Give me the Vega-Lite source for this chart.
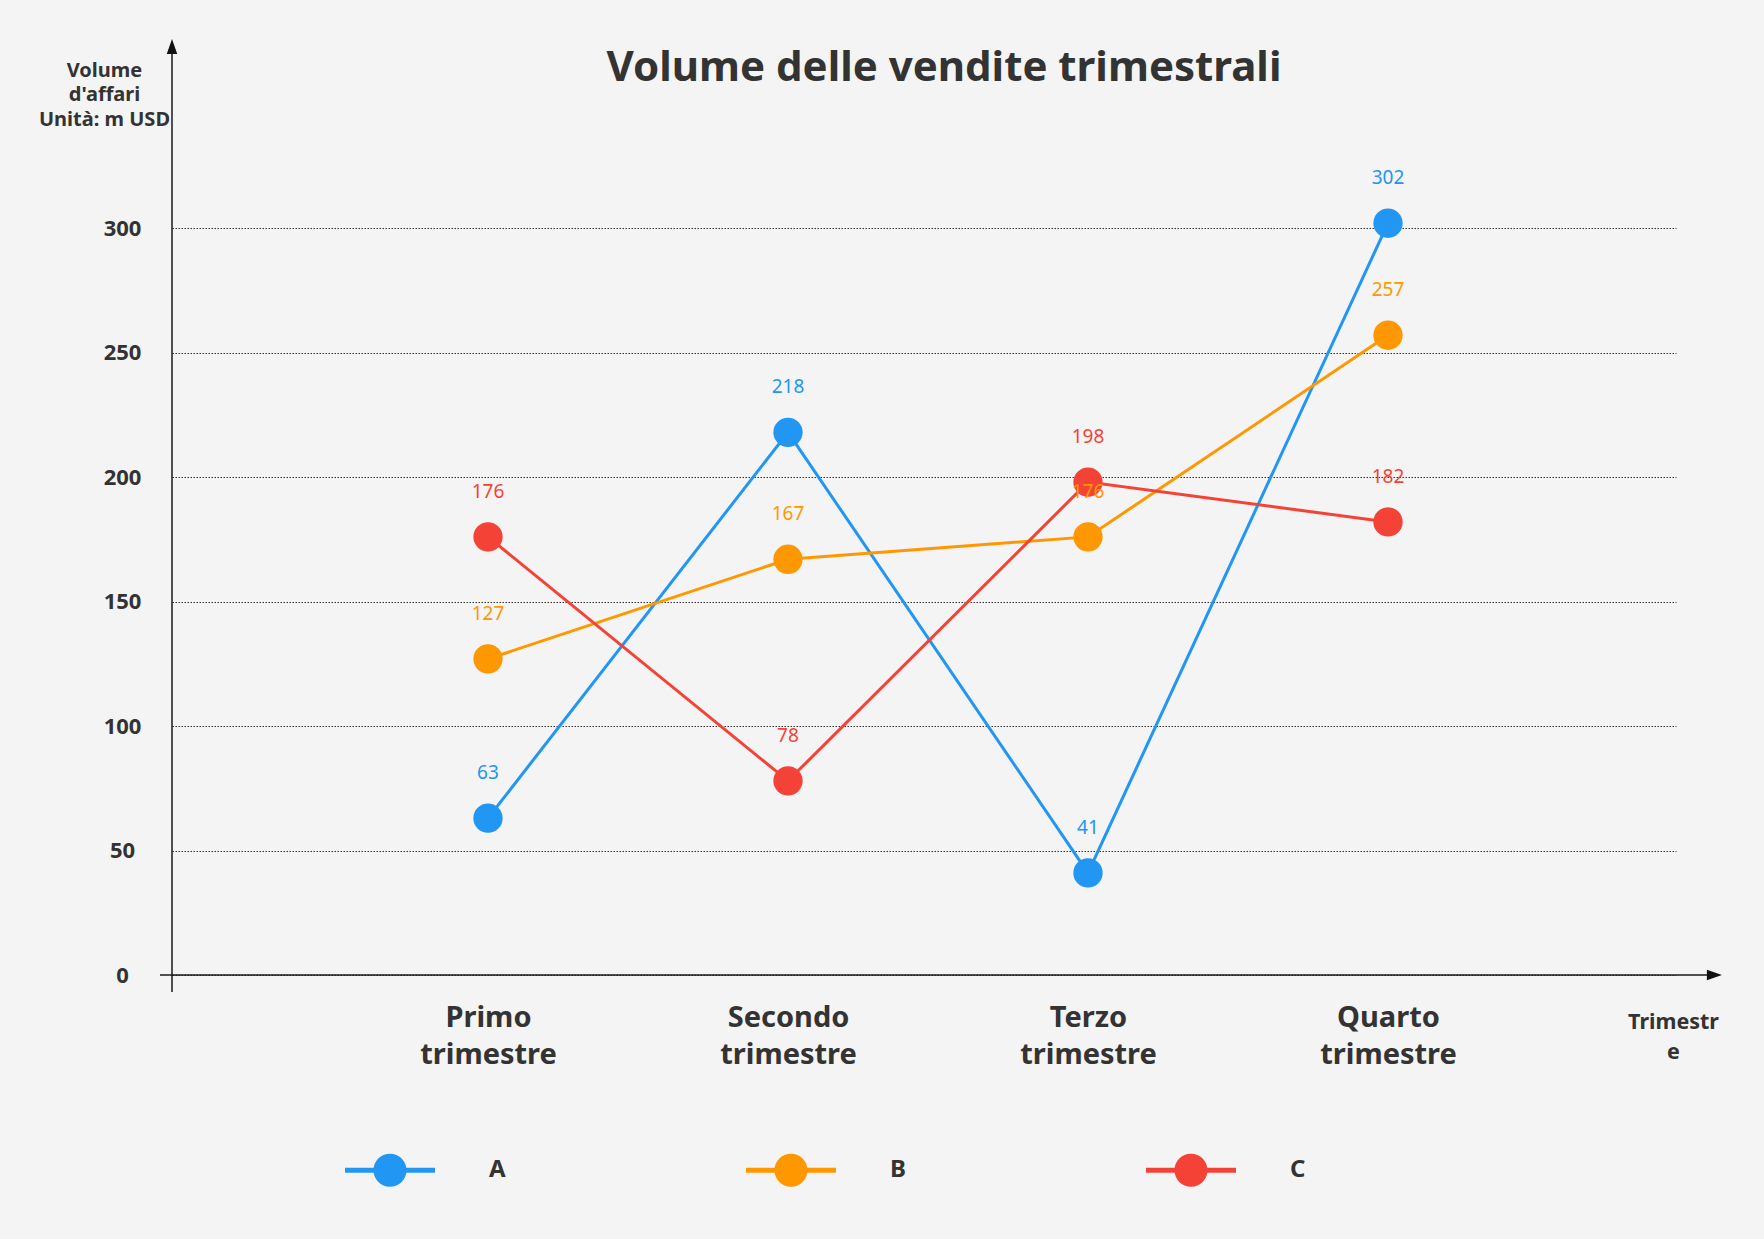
{
  "$schema": "https://vega.github.io/schema/vega-lite/v6.json",
  "width": 1504,
  "height": 936,
  "autosize": {"type": "none"},
  "padding": {"left": 172, "top": 39, "right": 88, "bottom": 264},
  "background": "#f4f4f4",
  "config": {"font": "Noto Sans", "view": {"stroke": null}},
  "title": {
    "text": "Volume delle vendite trimestrali",
    "fontSize": 42,
    "fontWeight": "bold",
    "color": "#333333",
    "anchor": "middle",
    "frame": "group",
    "offset": 0,
    "dx": 20,
    "dy": 51
  },
  "datasets": {
    "vendite": [
      {"trimestre": "Primo trimestre", "n": 1, "serie": "A", "valore": 63},
      {"trimestre": "Secondo trimestre", "n": 2, "serie": "A", "valore": 218},
      {"trimestre": "Terzo trimestre", "n": 3, "serie": "A", "valore": 41},
      {"trimestre": "Quarto trimestre", "n": 4, "serie": "A", "valore": 302},
      {"trimestre": "Primo trimestre", "n": 1, "serie": "B", "valore": 127},
      {"trimestre": "Secondo trimestre", "n": 2, "serie": "B", "valore": 167},
      {"trimestre": "Terzo trimestre", "n": 3, "serie": "B", "valore": 176},
      {"trimestre": "Quarto trimestre", "n": 4, "serie": "B", "valore": 257},
      {"trimestre": "Primo trimestre", "n": 1, "serie": "C", "valore": 176},
      {"trimestre": "Secondo trimestre", "n": 2, "serie": "C", "valore": 78},
      {"trimestre": "Terzo trimestre", "n": 3, "serie": "C", "valore": 198},
      {"trimestre": "Quarto trimestre", "n": 4, "serie": "C", "valore": 182}
    ]
  },
  "data": {"name": "vendite"},
  "layer": [
    {
      "mark": {"type": "line", "strokeWidth": 3},
      "encoding": {
        "x": {
          "field": "n",
          "type": "quantitative",
          "scale": {"domain": [-0.0533, 4.96], "nice": false, "zero": false},
          "axis": {
            "values": [1, 2, 3, 4],
            "labelExpr": "datum.value == 1 ? ['Primo', 'trimestre'] : datum.value == 2 ? ['Secondo', 'trimestre'] : datum.value == 3 ? ['Terzo', 'trimestre'] : ['Quarto', 'trimestre']",
            "ticks": false,
            "domain": false,
            "grid": false,
            "labelFlush": false,
            "labelOverlap": false,
            "labelBound": false,
            "labelFontSize": 29,
            "labelFontWeight": "bold",
            "labelColor": "#333333",
            "labelPadding": 28,
            "labelLineHeight": 37,
            "labelBaseline": "top",
            "title": ["Trimestr", "e"],
            "titleX": 1501,
            "titleY": 36,
            "titleAlign": "center",
            "titleBaseline": "top",
            "titleAngle": 0,
            "titleFontSize": 21.5,
            "titleFontWeight": "bold",
            "titleColor": "#333333",
            "titleLineHeight": 30
          }
        },
        "y": {
          "field": "valore",
          "type": "quantitative",
          "scale": {"domain": [0, 376], "nice": false, "zero": false},
          "axis": {
            "values": [0, 50, 100, 150, 200, 250, 300],
            "ticks": false,
            "domain": false,
            "labelFontSize": 22,
            "labelFontWeight": "bold",
            "labelColor": "#333333",
            "labelAlign": "center",
            "labelPadding": 50,
            "labelOverlap": false,
            "labelFlush": false,
            "grid": true,
            "gridColor": "#333333",
            "gridDash": [1.5, 1.5],
            "gridWidth": 1,
            "title": ["Volume", "d'affari", "Unità: m USD"],
            "titleAngle": 0,
            "titleAlign": "center",
            "titleBaseline": "top",
            "titleX": -68,
            "titleY": 21,
            "titleFontSize": 20,
            "titleFontWeight": "bold",
            "titleColor": "#333333",
            "titleLineHeight": 24.5
          }
        },
        "color": {
          "field": "serie",
          "type": "nominal",
          "scale": {"domain": ["A", "B", "C"], "range": ["#2196F3", "#FF9800", "#F44336"]}
        }
      }
    },
    {
      "mark": {"type": "point", "filled": true, "size": 860, "opacity": 1, "strokeWidth": 0},
      "encoding": {
        "x": {"field": "n", "type": "quantitative", "scale": {"domain": [-0.0533, 4.96], "nice": false, "zero": false}},
        "y": {"field": "valore", "type": "quantitative", "scale": {"domain": [0, 376], "nice": false, "zero": false}},
        "color": {
          "field": "serie",
          "type": "nominal",
          "scale": {"domain": ["A", "B", "C"], "range": ["#2196F3", "#FF9800", "#F44336"]},
          "legend": {
            "orient": "none",
            "legendX": 173,
            "legendY": 1086,
            "direction": "horizontal",
            "columns": 3,
            "title": null,
            "padding": 0,
            "symbolType": "M-1,-0.056H1V0.056H-1Z M-0.367,0A0.367,0.367,0,1,1,0.367,0A0.367,0.367,0,1,1,-0.367,0Z",
            "symbolSize": 8100,
            "symbolStrokeWidth": 0,
            "symbolOpacity": 1,
            "labelFontSize": 24,
            "labelFontWeight": "bold",
            "labelColor": "#333333",
            "labelOffset": 54,
            "columnPadding": 240
          }
        }
      }
    },
    {
      "mark": {"type": "text", "dy": -45, "fontSize": 19},
      "encoding": {
        "x": {"field": "n", "type": "quantitative", "scale": {"domain": [-0.0533, 4.96], "nice": false, "zero": false}},
        "y": {"field": "valore", "type": "quantitative", "scale": {"domain": [0, 376], "nice": false, "zero": false}},
        "text": {"field": "valore", "type": "quantitative"},
        "color": {
          "field": "serie",
          "type": "nominal",
          "scale": {"domain": ["A", "B", "C"], "range": ["#2196F3", "#FF9800", "#F44336"]}
        }
      }
    },
    {
      "data": {"values": [{}]},
      "mark": {"type": "rule", "color": "#1a1a1a", "strokeWidth": 1.5},
      "encoding": {
        "x": {"datum": -0.0533, "type": "quantitative"},
        "y": {"datum": -6.8, "type": "quantitative"},
        "y2": {"datum": 370}
      }
    },
    {
      "data": {"values": [{}]},
      "mark": {"type": "rule", "color": "#1a1a1a", "strokeWidth": 1.5},
      "encoding": {
        "x": {"datum": -0.0933, "type": "quantitative"},
        "x2": {"datum": 5.09},
        "y": {"datum": 0, "type": "quantitative"}
      }
    },
    {
      "data": {"values": [{}]},
      "mark": {"type": "point", "filled": true, "opacity": 1, "color": "#111111", "size": 900, "shape": "M0,0L0.35,1L-0.35,1Z"},
      "encoding": {
        "x": {"datum": -0.0533, "type": "quantitative"},
        "y": {"datum": 376, "type": "quantitative"}
      }
    },
    {
      "data": {"values": [{}]},
      "mark": {"type": "point", "filled": true, "opacity": 1, "color": "#111111", "size": 900, "shape": "M0,0L-1,-0.35L-1,0.35Z"},
      "encoding": {
        "x": {"datum": 5.113, "type": "quantitative"},
        "y": {"datum": 0, "type": "quantitative"}
      }
    }
  ]
}
